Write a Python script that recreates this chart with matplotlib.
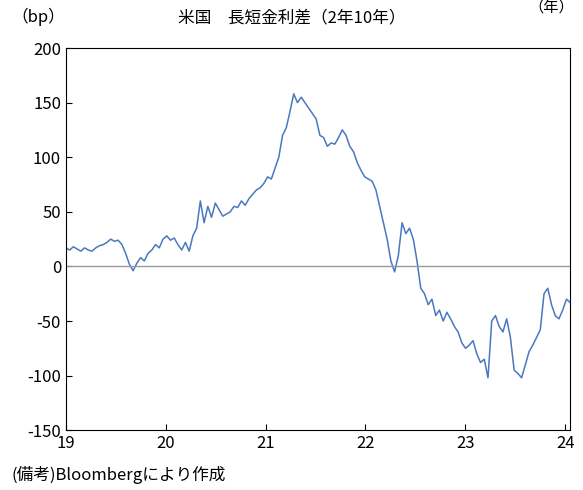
import matplotlib
matplotlib.use("Agg")
import matplotlib.pyplot as plt
import numpy as np

plt.rcParams['font.family'] = ['Noto Sans CJK JP', 'DejaVu Sans']

# readings, Jan 2019 .. early Jan 2024 (bp), evenly spaced
spread = [
 17,15,18,16,14,17,15,14,17,19,20,22,25,23,24,20,12,2,-4,3,8,5,12,15,20,17,25,28,
 24,26,20,15,22,14,28,35,60,40,55,45,58,52,46,48,50,55,54,60,56,62,66,70,72,76,82,80,
 90,100,120,127,142,158,150,155,150,145,140,135,120,118,110,113,112,118,125,120,110,105,95,88,82,80,
 78,70,55,40,25,5,-5,10,40,30,35,25,5,-20,-25,-35,-30,-45,-40,-50,-42,-48,-55,-60,-70,-75,
 -72,-68,-80,-88,-85,-102,-50,-45,-55,-60,-48,-65,-95,-98,-102,-90,-78,-72,-65,-58,-25,-20,-35,-45,-48,-40,-30,-33,
]
x = np.linspace(19, 24.05, len(spread))
xticks = [19, 20, 21, 22, 23, 24]
yticks = [-150, -100, -50, 0, 50, 100, 150, 200]

fig = plt.figure(figsize=(5.83, 4.90), dpi=100)
ax = fig.add_axes([0.113, 0.122, 0.865, 0.78])
ax.plot(x, spread, color='#4a78bf', lw=1.1)
ax.axhline(0, color='#999999', lw=1)
ax.set_xlim(19, 24.05)
ax.set_ylim(-150, 200)
ax.set_xticks(xticks)
ax.set_xticklabels([str(t) for t in xticks], fontsize=12)
ax.set_yticks(yticks)
ax.set_yticklabels([str(t) for t in yticks], fontsize=12)
ax.tick_params(direction='in', length=4)
fig.text(0.02, 0.955, '（bp）', fontsize=12)
fig.text(0.5, 0.955, '米国　長短金利差（2年10年）', fontsize=12, ha='center')
fig.text(0.985, 0.985, '（年）', fontsize=11, ha='right', va='center')
fig.text(0.02, 0.02, '(備考)Bloombergにより作成', fontsize=12)
fig.savefig('out.png', dpi=100)
